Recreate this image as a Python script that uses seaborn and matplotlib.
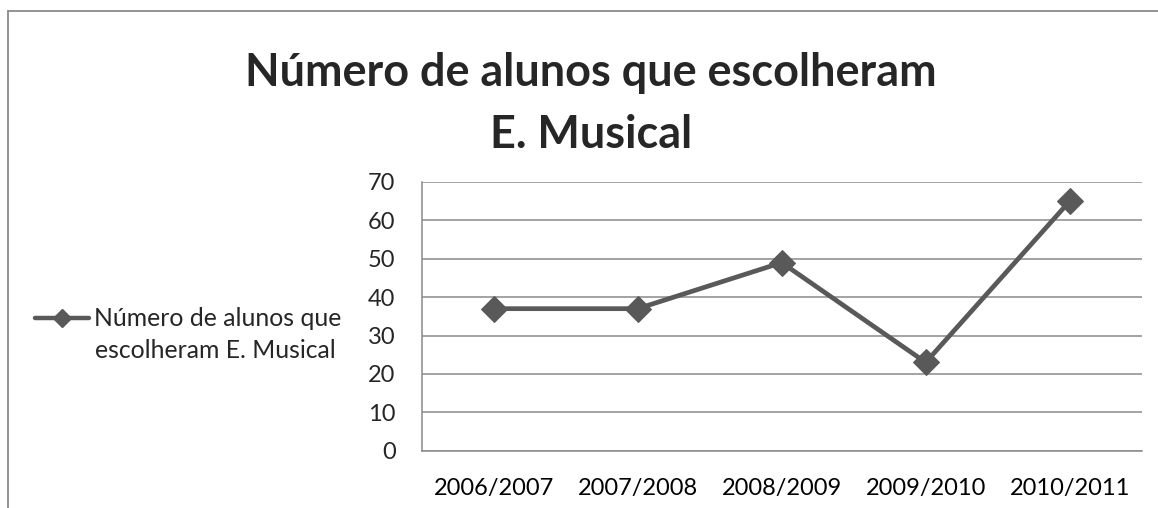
import matplotlib
matplotlib.use("Agg")
import matplotlib.pyplot as plt
import seaborn as sns
import pandas as pd
from matplotlib.lines import Line2D

categories = ["2006/2007", "2007/2008", "2008/2009", "2009/2010", "2010/2011"]
values = [37, 37, 49, 23, 65]
series_name = "Número de alunos que escolheram E. Musical"
title_lines = ["Número de alunos que escolheram", "E. Musical"]
legend_lines = ["Número de alunos que", "escolheram E. Musical"]
yticks = [0, 10, 20, 30, 40, 50, 60, 70]

sns.set_style("white")
plt.rcParams['font.family'] = ['Lato', 'DejaVu Sans']

W, H = 1158, 508
fig = plt.figure(figsize=(W / 100, H / 100), dpi=100)
ax = fig.add_axes([421.7 / W, 1 - 450.7 / H, (1141.7 - 421.7) / W, (450.7 - 182) / H])

df = pd.DataFrame({"periodo": categories, "alunos": values})
line_color = "#595959"
grid_color = "#8a8a8a"
sns.lineplot(data=df, x="periodo", y="alunos", ax=ax, color=line_color, linewidth=3.4,
             marker="D", markersize=13, markeredgecolor=line_color, sort=False)

ax.set_xlim(-0.5, len(categories) - 0.5)
ax.set_ylim(0, 70)
ax.set_yticks(yticks)
ax.set_xticks(range(len(categories)))
ax.set_xticklabels(categories)
ax.set_xticks([i - 0.5 for i in range(len(categories) + 1)], minor=True)
ax.tick_params(axis="x", which="major", length=0, labelsize=17, pad=20, colors="black")
ax.tick_params(axis="x", which="minor", length=5.5, width=1.1, color=grid_color, direction="out")
ax.tick_params(axis="y", length=5.8, width=1.1, color=grid_color, direction="out",
               labelsize=17, pad=13)
ax.set_xlabel("")
ax.set_ylabel("")
ax.grid(axis="y", color=grid_color, linewidth=1.1)
ax.set_axisbelow(True)
for s in ["top", "right"]:
    ax.spines[s].set_visible(False)
for s in ["left", "bottom"]:
    ax.spines[s].set_color(grid_color)
    ax.spines[s].set_linewidth(1.1)

fig.text(591 / W, 1 - 86 / H, title_lines[0], ha="center", va="baseline", fontsize=32.4,
         fontweight="bold")
fig.text(591 / W, 1 - 148 / H, title_lines[1], ha="center", va="baseline", fontsize=32.4,
         fontweight="bold")

handle = Line2D([], [], color=line_color, linewidth=3.2, marker="D", markersize=9)
leg = fig.legend([handle], [legend_lines[0]], loc="center left",
                 bbox_to_anchor=(35 / W, 1 - 319 / H), frameon=False, fontsize=17.8,
                 handlelength=2.2, handletextpad=0.2, borderaxespad=0, borderpad=0)
fig.text(95 / W, 1 - 358 / H, legend_lines[1], ha="left", va="baseline", fontsize=17.8)

border = "#8a8a8a"
fig.add_artist(Line2D([8 / W, 8 / W], [0, 1 - 11 / H], color=border, linewidth=1.3))
fig.add_artist(Line2D([8 / W, 1], [1 - 11 / H, 1 - 11 / H], color=border, linewidth=1.3))

fig.savefig("out.png", dpi=100)
